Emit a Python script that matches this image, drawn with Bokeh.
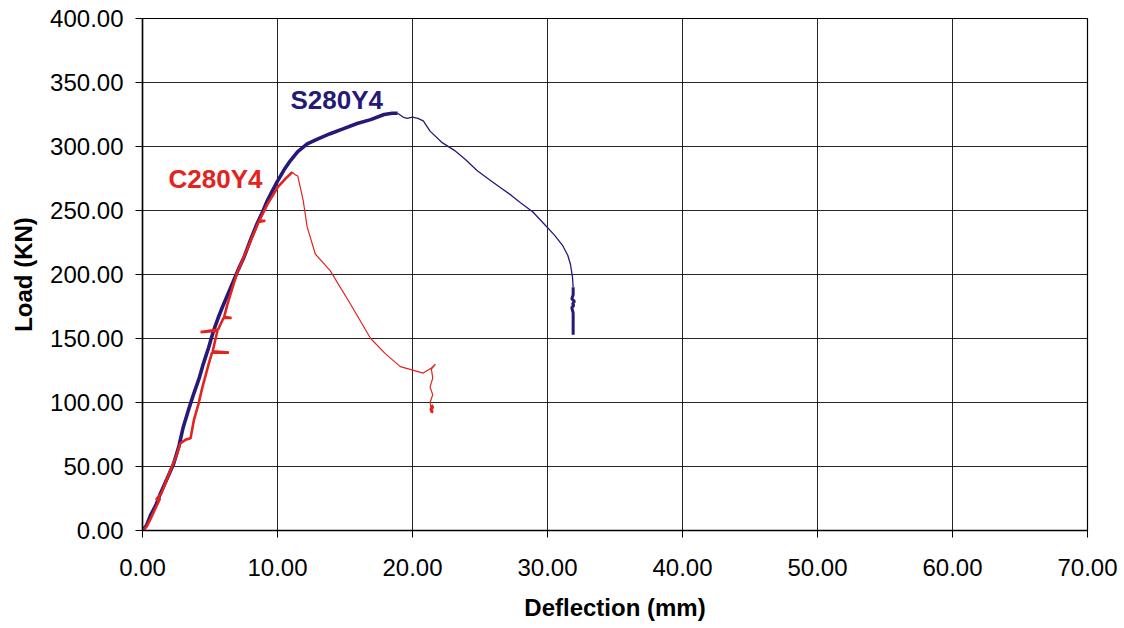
from bokeh.plotting import figure
from bokeh.models import Range1d, FixedTicker, NumeralTickFormatter
from bokeh.embed import file_html
from bokeh.resources import INLINE
from bokeh.core.properties import value

# S280Y4 (blue) - loading branch up to peak
s_rise_x = [0, 0.3, 0.6, 1.0, 1.33, 1.8, 2.3, 2.7, 3.0, 3.4, 3.8, 4.2, 4.5, 4.9, 5.26, 5.6, 5.9, 6.3,
            6.74, 7.1, 7.5, 8.0, 8.5, 8.9, 9.26, 9.6, 10.0, 10.5, 10.96, 11.5, 12.2, 13.0, 13.9, 14.9,
            15.9, 16.9, 17.9, 18.5, 18.9]
s_rise_y = [0, 4, 12, 20, 29, 40, 52, 66, 80, 94, 107, 119, 130, 143, 156, 166, 174, 184,
            195, 204, 213, 227, 240, 249, 258, 265, 273, 282, 289, 296, 302, 306, 310, 314,
            318, 321, 325, 326, 326]
# S280Y4 - post-peak branch
s_post_x = [18.9, 19.3, 19.6, 20.0, 20.4, 20.8, 21.3, 22.2, 23.1, 23.9, 24.8, 25.7, 26.5, 27.3,
            28.0, 28.9, 29.7, 30.5, 31.1, 31.5, 31.7, 31.85, 31.9]
s_post_y = [326, 323, 322, 323, 322, 320, 312, 303, 297, 290, 281, 274, 268, 262,
            256, 249, 240, 231, 223, 215, 208, 198, 190]
# S280Y4 - final drop
s_end_x = [31.9, 31.9, 31.8, 32.0, 31.85, 31.95, 31.8, 31.9, 31.9]
s_end_y = [190, 184, 181, 179, 177, 176, 174, 170, 153]

# C280Y4 (red) - loading branch up to peak
c_rise_x = [0, 0.3, 0.6, 0.9, 1.3, 1.0, 1.4, 2.07, 2.5, 2.8, 3.2, 3.56, 3.8, 4.15, 4.44, 4.9,
            5.15, 6.4, 5.2, 5.55, 4.3, 5.6, 6.0, 6.6, 6.05, 6.3, 7.0, 7.8, 8.6, 9.1, 8.65,
            9.26, 10.0, 10.7, 11.1]
c_rise_y = [0, 3, 9, 16, 25, 24, 29, 47, 58, 68, 71, 72, 86, 99, 112, 130,
            139, 139, 140, 156, 155, 157, 166, 166, 167, 177, 201, 221, 241, 242, 242,
            255, 268, 276, 280]
# C280Y4 - post-peak branch
c_post_x = [11.1, 11.3, 11.5, 11.9, 12.2, 12.8, 13.9, 15.4, 16.9, 18.0, 19.1, 20.8, 21.4, 21.7,
            21.4, 21.5, 21.3, 21.5, 21.3, 21.4, 21.4]
c_post_y = [280, 278, 277, 258, 237, 216, 203, 177, 150, 138, 128, 123, 127, 130,
            126, 119, 112, 106, 100, 95, 92]
c_end_x = [21.4, 21.5, 21.35, 21.45, 21.4]
c_end_y = [98, 96, 95, 93, 92]

x_ticks = [0, 10, 20, 30, 40, 50, 60, 70]
y_ticks = [0, 50, 100, 150, 200, 250, 300, 350, 400]

BLUE = "#261A78"
RED = "#E2231E"
FONT = "Liberation Sans"

p = figure(width=1124, height=628, output_backend="svg", toolbar_location=None,
           x_range=Range1d(0, 70), y_range=Range1d(0, 400))
p.min_border_left = 142
p.min_border_right = 37
p.min_border_top = 18
p.min_border_bottom = 98
p.background_fill_color = "white"
p.border_fill_color = "white"
p.outline_line_color = "black"
p.outline_line_width = 1.2

p.xaxis.ticker = FixedTicker(ticks=x_ticks)
p.yaxis.ticker = FixedTicker(ticks=y_ticks)
p.xaxis.formatter = NumeralTickFormatter(format="0.00")
p.yaxis.formatter = NumeralTickFormatter(format="0.00")
for ax in (p.xaxis, p.yaxis):
    ax.axis_line_color = "black"
    ax.axis_line_width = 1.5
    ax.major_tick_line_color = "black"
    ax.major_tick_out = 7
    ax.major_tick_in = 0
    ax.minor_tick_line_color = None
    ax.major_label_text_font = FONT
    ax.major_label_text_font_size = "24px"
    ax.major_label_text_color = "black"
    ax.axis_label_text_font = FONT
    ax.axis_label_text_font_style = "bold"
    ax.axis_label_text_font_size = "24px"
    ax.axis_label_text_color = "black"
p.xaxis.axis_label = "Deflection (mm)"
p.yaxis.axis_label = "Load (KN)"
p.xaxis.major_label_standoff = 21
p.yaxis.major_label_standoff = 12
p.xaxis.axis_label_standoff = 15
p.yaxis.axis_label_standoff = 10

p.grid.grid_line_color = "black"
p.grid.grid_line_width = 1
p.grid.grid_line_alpha = 0.85

p.line(s_rise_x, s_rise_y, line_color=BLUE, line_width=3.6)
p.line(s_post_x, s_post_y, line_color=BLUE, line_width=1.3)
p.line(s_end_x, s_end_y, line_color=BLUE, line_width=3)
p.line(c_rise_x, c_rise_y, line_color=RED, line_width=2.6)
p.line(c_post_x, c_post_y, line_color=RED, line_width=1.2)
p.line(c_end_x, c_end_y, line_color=RED, line_width=3)

p.text(x=[10.96], y=[336], text=["S280Y4"], text_color=BLUE, text_font=value(FONT),
       text_font_style="bold", text_font_size="26px", text_baseline="middle", text_align="left")
p.text(x=[1.93], y=[275], text=["C280Y4"], text_color=RED, text_font=value(FONT),
       text_font_style="bold", text_font_size="26px", text_baseline="middle", text_align="left")

open("out.html", "w").write(file_html(p, INLINE))
